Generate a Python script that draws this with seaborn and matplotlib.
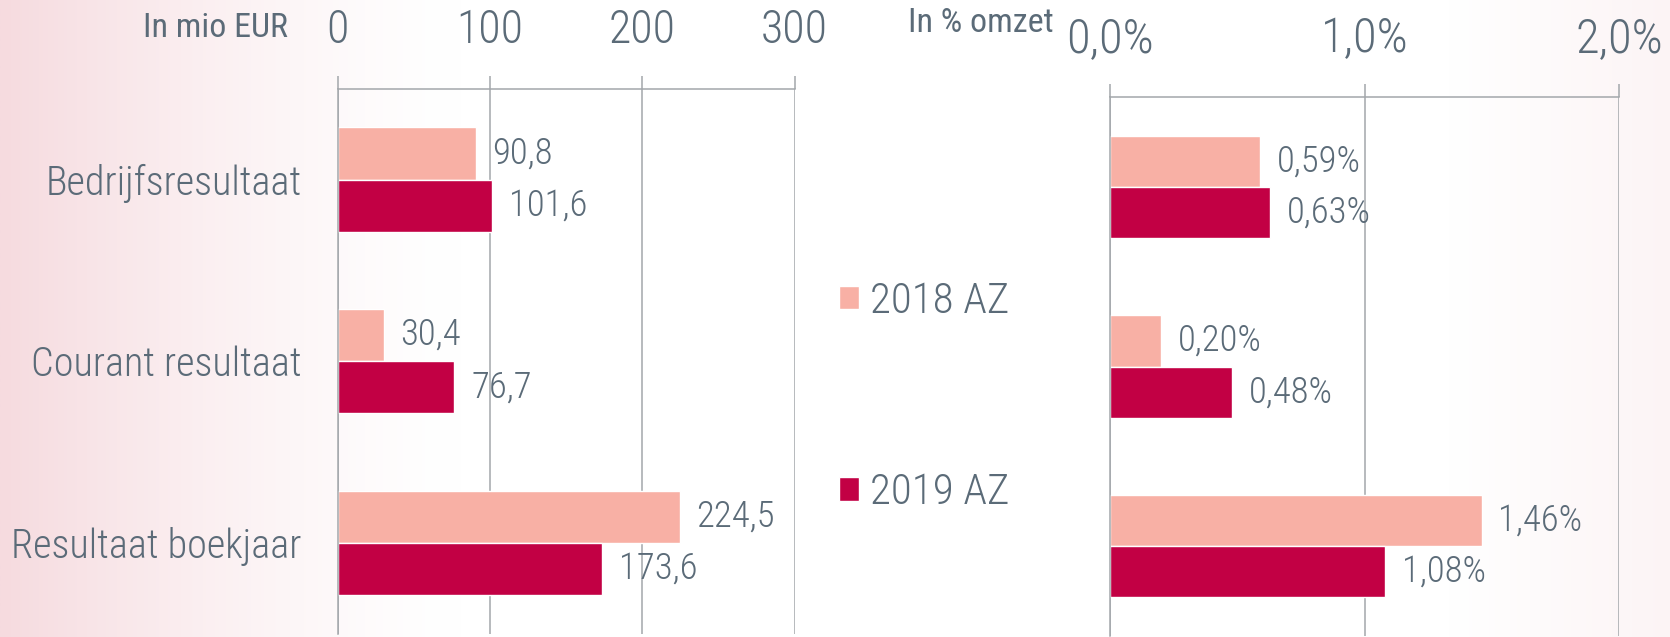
import numpy as np
import pandas as pd
import seaborn as sns
import matplotlib.pyplot as plt
from matplotlib import font_manager as fm

# data
categories = ['Bedrijfsresultaat', 'Courant resultaat', 'Resultaat boekjaar']
years = ['2018 AZ', '2019 AZ']
eur_2018 = [90.8, 30.4, 224.5]
eur_2019 = [101.6, 76.7, 173.6]
pct_2018 = [0.59, 0.20, 1.46]
pct_2019 = [0.63, 0.48, 1.08]
eur_ticks = [0, 100, 200, 300]
pct_ticks = [0, 1, 2]
pct_tick_labels = ['0,0%', '1,0%', '2,0%']

light = '#F8B0A5'
dark = '#C20044'
text_col = '#5B6B78'
grid_col = '#A3A7AB'

sns.set_style('white')

# pick a narrow font if there is one, otherwise a light one scaled down a bit
installed = {f.name for f in fm.fontManager.ttflist}
if 'Liberation Sans Narrow' in installed:
    font, fw, hw, k = 'Liberation Sans Narrow', 'normal', 'bold', 1.0
elif 'Roboto Condensed' in installed:
    font, fw, hw, k = 'Roboto Condensed', 'light', 'normal', 1.0
else:
    font, fw, hw, k = 'Roboto', 'light', 'normal', 0.87
plt.rcParams['font.family'] = [font, 'DejaVu Sans']
plt.rcParams['font.weight'] = fw

df_eur = pd.DataFrame({'cat': categories * 2,
                       'year': [years[0]] * 3 + [years[1]] * 3,
                       'val': eur_2018 + eur_2019})
df_pct = pd.DataFrame({'cat': categories * 2,
                       'year': [years[0]] * 3 + [years[1]] * 3,
                       'val': pct_2018 + pct_2019})

W, H = 1670, 637
fig = plt.figure(figsize=(W / 100, H / 100), dpi=100)

# soft pink gradient behind everything
bg = fig.add_axes([0, 0, 1, 1], zorder=-5)
xs = np.linspace(0, W, 600)
t = np.maximum(np.clip(1 - xs / 460, 0, 1) ** 1.4,
               np.clip((xs - 1450) / 220, 0, 1) * 0.3)
pink = np.array([246, 219, 223]) / 255
img = 1 - t[:, None] * (1 - pink)
bg.imshow(img[None], aspect='auto', extent=[0, 1, 0, 1])
bg.axis('off')

ax1 = fig.add_axes([337.6 / W, 3.3 / H, 457 / W, 545 / H])
ax2 = fig.add_axes([1110 / W, 1 / H, 509 / W, 539 / H])

tick_len = 9.4
lw = 1.1

sns.barplot(data=df_eur, x='val', y='cat', hue='year', orient='h',
            palette=[light, dark], width=0.575, saturation=1, ax=ax1)
sns.barplot(data=df_pct, x='val', y='cat', hue='year', orient='h',
            palette=[light, dark], width=0.57, saturation=1, ax=ax2)

for ax, ticks, xmax, lsize, pad in [(ax1, eur_ticks, 300, 33, 17),
                                    (ax2, pct_ticks, 2, 35, 16)]:
    ax.set_facecolor('none')
    ax.set_xlim(0, xmax)
    ax.set_ylim(2.5, -0.5)
    ax.set_xlabel('')
    ax.set_ylabel('')
    ax.xaxis.tick_top()
    ax.set_xticks(ticks)
    ax.tick_params(axis='x', which='major', length=tick_len, width=lw,
                   color=grid_col, pad=pad, labelsize=lsize * k, labelcolor=text_col)
    ax.grid(axis='x', color=grid_col, lw=lw)
    ax.grid(axis='y', visible=False)
    ax.set_axisbelow(True)
    for s in ['right', 'bottom']:
        ax.spines[s].set_visible(False)
    for s in ['top', 'left']:
        ax.spines[s].set_color(grid_col)
        ax.spines[s].set_linewidth(lw)

ax2.set_xticklabels(pct_tick_labels)

# left panel: category labels plus separator ticks between groups
ax1.set_yticks([0, 1, 2])
ax1.set_yticklabels(categories)
ax1.tick_params(axis='y', which='major', length=0, pad=26,
                labelsize=29 * k, labelcolor=text_col)
ax1.set_yticks([-0.5, 0.5, 1.5, 2.5], minor=True)
ax1.tick_params(axis='y', which='minor', length=tick_len, width=lw, color=grid_col)
ax2.set_yticks([])

for c, vals in zip(ax1.containers, [eur_2018, eur_2019]):
    ax1.bar_label(c, labels=[f'{v:.1f}'.replace('.', ',') for v in vals],
                  padding=12, fontsize=26.5 * k, color=text_col)
for c, vals in zip(ax2.containers, [pct_2018, pct_2019]):
    ax2.bar_label(c, labels=[f'{v:.2f}%'.replace('.', ',') for v in vals],
                  padding=12, fontsize=26.5 * k, color=text_col)

handles, labels = ax1.get_legend_handles_labels()
ax1.get_legend().remove()
ax2.get_legend().remove()

leg_fs = 31 * k
fs_px = leg_fs * 100 / 72
fig.legend(handles, labels, loc='center left',
           bbox_to_anchor=(839 / W, 1 - 397 / H), frameon=False,
           fontsize=leg_fs, labelcolor=text_col,
           handlelength=20 / fs_px, handleheight=20 / fs_px,
           handletextpad=11 / fs_px, labelspacing=(202 - 1.2 * fs_px) / fs_px,
           borderpad=0, borderaxespad=0)

fig.text(288 / W, 1 - 28 / H, 'In mio EUR', ha='right', va='center',
         fontsize=24.5 * k, fontweight=hw, color=text_col)
fig.text(1054 / W, 1 - 23 / H, 'In % omzet', ha='right', va='center',
         fontsize=24.5 * k, fontweight=hw, color=text_col)

fig.savefig('out.png', dpi=100)
